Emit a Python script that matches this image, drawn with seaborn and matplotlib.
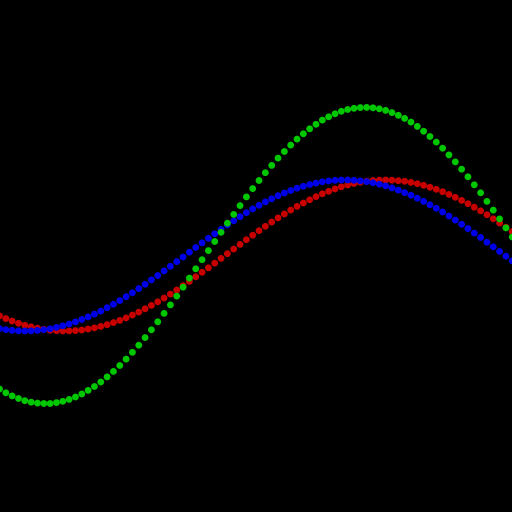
import numpy as np
import pandas as pd
import seaborn as sns
import matplotlib
matplotlib.use('Agg')
import matplotlib.pyplot as plt

# sample index along x, values in pixel-ish units
idx = list(range(82))

red_vals = [-59.9, -62.6, -65.0, -67.2, -69.2, -70.8, -72.2, -73.3, -74.2, -74.7,
            -75.0, -74.9, -74.6, -74.0, -73.0, -71.9, -70.4, -68.7, -66.6, -64.4,
            -61.9, -59.0, -56.1, -52.8, -49.4, -45.8, -42.0, -38.1, -34.0, -29.7,
            -25.4, -20.8, -16.3, -11.8, -7.2, -2.4, 2.3, 6.9, 11.6, 16.3,
            20.8, 25.3, 29.7, 33.9, 38.1, 42.0, 45.9, 49.6, 53.0, 56.2,
            59.3, 62.2, 64.7, 67.1, 69.2, 71.0, 72.5, 73.8, 74.8, 75.5,
            75.9, 76.0, 75.8, 75.3, 74.7, 73.6, 72.3, 70.7, 68.8, 66.7,
            64.3, 61.6, 58.7, 55.6, 52.3, 48.8, 45.2, 41.3, 37.2, 33.0,
            28.8, 24.4]

blue_vals = [-72.6, -73.7, -74.4, -74.8, -75.0, -74.9, -74.4, -73.7, -72.8, -71.4,
             -69.8, -68.0, -65.9, -63.5, -60.9, -58.1, -55.1, -51.7, -48.3, -44.6,
             -40.7, -36.8, -32.6, -28.3, -23.9, -19.5, -14.9, -10.3, -5.6, -1.0,
             3.8, 8.5, 13.1, 17.7, 22.2, 26.6, 31.0, 35.2, 39.3, 43.3,
             47.1, 50.7, 54.1, 57.2, 60.3, 63.0, 65.5, 67.8, 69.7, 71.5,
             72.9, 74.2, 75.0, 75.6, 76.0, 76.0, 75.7, 75.1, 74.3, 73.2,
             71.8, 70.1, 68.1, 65.9, 63.4, 60.8, 57.8, 54.6, 51.2, 47.7,
             44.0, 40.0, 35.9, 31.7, 27.4, 22.9, 18.5, 13.8, 9.2, 4.6,
             -0.2, -4.9]

green_vals = [-133.0, -136.8, -139.9, -142.5, -144.7, -146.2, -147.1, -147.5, -147.5, -146.6,
              -145.3, -143.4, -141.0, -138.0, -134.4, -130.5, -126.0, -120.9, -115.4, -109.5,
              -103.1, -96.3, -89.2, -81.6, -73.8, -65.8, -57.4, -48.9, -40.1, -31.2,
              -22.1, -12.8, -3.7, 5.4, 14.5, 23.7, 32.8, 41.6, 50.4, 59.1,
              67.4, 75.5, 83.3, 90.6, 97.9, 104.5, 110.9, 116.9, 122.2, 127.2,
              131.7, 135.9, 139.2, 142.2, 144.7, 146.5, 147.7, 148.4, 148.6, 148.2,
              147.2, 145.6, 143.4, 140.7, 137.6, 133.9, 129.6, 124.8, 119.5, 113.9,
              107.8, 101.1, 94.1, 86.8, 79.2, 71.2, 63.2, 54.6, 45.9, 37.1,
              28.1, 19.0]

series_names = ['red', 'blue', 'green']
series_colors = {'red': '#c80000', 'blue': '#0000e8', 'green': '#00c800'}

df = pd.DataFrame({
    'x': idx * 3,
    'y': red_vals + blue_vals + green_vals,
    'series': ['red'] * 82 + ['blue'] * 82 + ['green'] * 82,
})

fig = plt.figure(figsize=(5.12, 5.12), dpi=100, facecolor='black')
ax = fig.add_axes([0, 0, 1, 1])
ax.set_facecolor('black')

# one collection, drawn in data order -> green ends up on top
sns.scatterplot(data=df, x='x', y='y', hue='series', hue_order=series_names,
                palette=series_colors, s=24, linewidth=0, legend=False, ax=ax)

ax.set_xlim(0.08, 80.96)
ax.set_ylim(-256, 256)
ax.axis('off')

fig.savefig('out.png', dpi=100, facecolor='black')
